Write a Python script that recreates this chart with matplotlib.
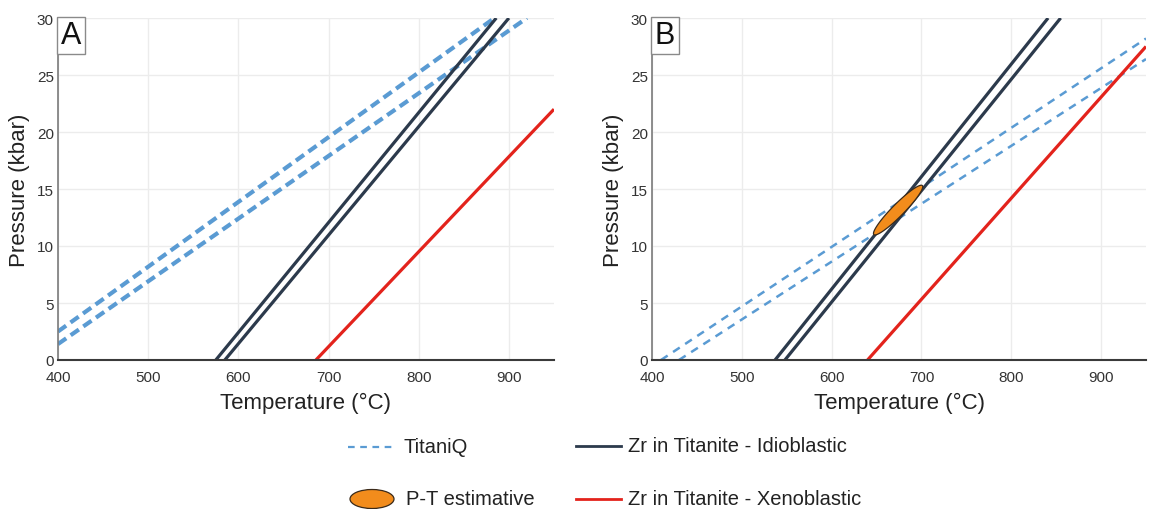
import numpy as np
import matplotlib
matplotlib.use('Agg')
import matplotlib.pyplot as plt
from matplotlib.patches import Ellipse, Polygon

plt.rcParams['font.family'] = ['Liberation Sans', 'DejaVu Sans']

# Line end points (temperature in °C, pressure in kbar)
# Panel A
a_titaniq_hi_T = [400, 884]
a_titaniq_hi_P = [2.5, 30.0]
a_titaniq_lo_T = [400, 920]
a_titaniq_lo_P = [1.4, 30.0]
a_idio_1_T = [575, 886]
a_idio_1_P = [0.0, 30.0]
a_idio_2_T = [585, 900]
a_idio_2_P = [0.0, 30.0]
a_xeno_T = [686, 950]
a_xeno_P = [0.0, 22.0]

# Panel B
b_titaniq_hi_T = [410, 950]
b_titaniq_hi_P = [0.0, 28.2]
b_titaniq_lo_T = [430, 950]
b_titaniq_lo_P = [0.0, 26.4]
b_idio_1_T = [537, 841]
b_idio_1_P = [0.0, 30.0]
b_idio_2_T = [548, 855]
b_idio_2_P = [0.0, 30.0]
b_xeno_T = [640, 950]
b_xeno_P = [0.0, 27.5]

# P-T estimate: long axis of the ellipse
pt_T = [647, 701]
pt_P = [11.0, 15.3]

temp_ticks = [400, 500, 600, 700, 800, 900]
press_ticks = [0, 5, 10, 15, 20, 25, 30]

BLUE = '#5a9bd3'
NAVY = '#2c3a4c'
RED = '#e3231c'
ORANGE = '#f28c1c'

W, H = 1150, 510
fig = plt.figure(figsize=(W / 100, H / 100), dpi=100)


def px_axes(left, top, right, bottom):
    return fig.add_axes([left / W, 1 - bottom / H, (right - left) / W, (bottom - top) / H])


def style_axes(ax, letter):
    ax.set_xlim(400, 950)
    ax.set_ylim(0, 30)
    ax.set_xticks(temp_ticks)
    ax.set_yticks(press_ticks)
    ax.grid(color='#ececec', lw=1)
    ax.set_axisbelow(True)
    for side in ['top', 'right']:
        ax.spines[side].set_visible(False)
    ax.spines['left'].set_color('#7a7a7a')
    ax.spines['left'].set_linewidth(1.2)
    ax.spines['bottom'].set_color('#3a3a3a')
    ax.spines['bottom'].set_linewidth(1.5)
    ax.tick_params(length=0, labelsize=11, colors='#333333')
    ax.tick_params(axis='x', pad=7)
    ax.tick_params(axis='y', pad=3)
    ax.set_xlabel('Temperature (°C)', fontsize=16, color='#222222', labelpad=6)
    ax.set_ylabel('Pressure (kbar)', fontsize=16, color='#222222', labelpad=5)
    ax.text(0.006, 0.993, letter, transform=ax.transAxes, ha='left', va='top',
            fontsize=22, color='#111111',
            bbox=dict(boxstyle='square,pad=0.12', fc='white', ec='#8a8a8a', lw=1))


ax_a = px_axes(58, 19, 554, 361)
ax_b = px_axes(652, 19, 1146, 361)
style_axes(ax_a, 'A')
style_axes(ax_b, 'B')

# Panel A
ax_a.plot(a_titaniq_hi_T, a_titaniq_hi_P, color=BLUE, lw=3, dashes=(2.4, 1.3))
ax_a.plot(a_titaniq_lo_T, a_titaniq_lo_P, color=BLUE, lw=3, dashes=(2.4, 1.3))
ax_a.plot(a_idio_1_T, a_idio_1_P, color=NAVY, lw=2.3, solid_capstyle='butt')
ax_a.plot(a_idio_2_T, a_idio_2_P, color=NAVY, lw=2.3, solid_capstyle='butt')
ax_a.plot(a_xeno_T, a_xeno_P, color=RED, lw=2.3, solid_capstyle='butt')

# Panel B
ax_b.plot(b_titaniq_hi_T, b_titaniq_hi_P, color=BLUE, lw=1.8, dashes=(3.2, 2.6))
ax_b.plot(b_titaniq_lo_T, b_titaniq_lo_P, color=BLUE, lw=1.8, dashes=(3.2, 2.6))
ax_b.plot(b_idio_1_T, b_idio_1_P, color=NAVY, lw=2.3, solid_capstyle='butt')
ax_b.plot(b_idio_2_T, b_idio_2_P, color=NAVY, lw=2.3, solid_capstyle='butt')
ax_b.plot(b_xeno_T, b_xeno_P, color=RED, lw=2.3, solid_capstyle='butt')

# P-T ellipse, built in display space so it keeps its shape, then mapped back
ends = ax_b.transData.transform(np.column_stack([pt_T, pt_P]))
centre = ends.mean(axis=0)
major = np.linalg.norm(ends[1] - ends[0]) / 2
minor = 6.0
ang = np.arctan2(ends[1, 1] - ends[0, 1], ends[1, 0] - ends[0, 0])
t = np.linspace(0, 2 * np.pi, 120)
ex = major * np.cos(t)
ey = minor * np.sin(t)
pts = np.column_stack([centre[0] + ex * np.cos(ang) - ey * np.sin(ang),
                       centre[1] + ex * np.sin(ang) + ey * np.cos(ang)])
ax_b.add_patch(Polygon(ax_b.transData.inverted().transform(pts), closed=True,
                       fc=ORANGE, ec='#3a2a1a', lw=0.9, zorder=5))

# Legend drawn on an overlay in pixel units
leg = fig.add_axes([0, 0, 1, 1])
leg.set_xlim(0, W)
leg.set_ylim(H, 0)
leg.axis('off')
leg.plot([348, 392], [448, 448], color=BLUE, lw=1.6, dashes=(3, 2.5))
leg.text(404, 448, 'TitaniQ', fontsize=14.5, va='center', color='#222222')
leg.plot([576, 621], [447, 447], color=NAVY, lw=2)
leg.text(628, 447, 'Zr in Titanite - Idioblastic', fontsize=14.5, va='center', color='#222222')
leg.add_patch(Ellipse((372, 500), 44, 19, fc=ORANGE, ec='#3a2a1a', lw=0.9))
leg.text(406, 500, 'P-T estimative', fontsize=14.5, va='center', color='#222222')
leg.plot([576, 621], [500, 500], color=RED, lw=2)
leg.text(628, 500, 'Zr in Titanite - Xenoblastic', fontsize=14.5, va='center', color='#222222')

fig.savefig('out.png', dpi=100)
